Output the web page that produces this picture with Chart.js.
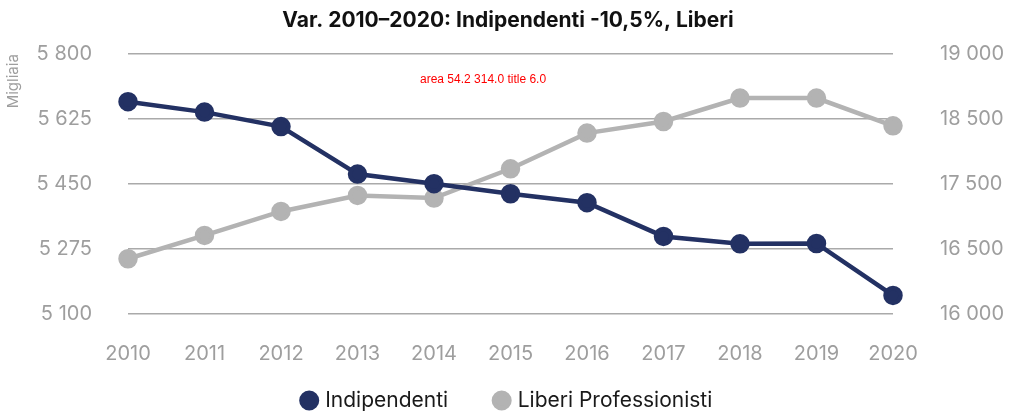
<!DOCTYPE html>
<html>
<head>
<meta charset="utf-8">
<script src="https://cdn.jsdelivr.net/npm/chart.js@4"></script>
<style>
  html, body { margin: 0; padding: 0; background: #ffffff; }
  #wrap { width: 1022px; height: 411px; position: relative; }
</style>
</head>
<body>
<div id="wrap"><canvas id="grafico"></canvas></div>
<script>
const anni = ["2010", "2011", "2012", "2013", "2014", "2015", "2016", "2017", "2018", "2019", "2020"];
const indipendenti = [5672, 5644, 5605, 5477, 5451, 5424, 5400, 5309, 5289, 5290, 5150];
const liberiProfessionisti = [16638, 16907, 17184, 17369, 17339, 17677, 18089, 18223, 18493, 18493, 18173];
const tickSinistra = ["5 100", "5 275", "5 450", "5 625", "5 800"];
const tickDestra = ["16 000", "16 500", "17 500", "18 500", "19 000"];

const blu = "#233163";
const grigio = "#b3b3b3";
const grigioTesto = "#9e9e9e";

Chart.defaults.font.family = "Inter, 'Noto Sans', sans-serif";

// la legenda ha un padding largo (spazio fra le voci): alzo solo il bordo superiore dopo il layout
const spostaLegenda = {
  id: "spostaLegenda",
  afterLayout(chart) {
    chart.legend.top -= 34;
  },
  afterDraw(chart) {
    const a = chart.chartArea;
    const ctx = chart.ctx;
    ctx.save();
    ctx.fillStyle = "red";
    ctx.font = "12px sans-serif";
    ctx.fillText("area " + a.top.toFixed(1) + " " + a.bottom.toFixed(1) + " title " + chart.titleBlock.top.toFixed(1), 420, 80);
    ctx.restore();
  }
};

// niente margine extra sopra/sotto per le etichette degli assi verticali
const senzaPaddingVerticale = (asse, larghezza) => {
  asse.width = larghezza;
  asse.paddingTop = 0;
  asse.paddingBottom = 0;
};

new Chart(document.getElementById("grafico"), {
  type: "line",
  data: {
    labels: anni,
    datasets: [{
      label: "Indipendenti",
      data: indipendenti,
      yAxisID: "y",
      borderColor: blu,
      backgroundColor: blu,
      borderWidth: 4.5,
      pointRadius: 7.5,
      pointHoverRadius: 7.5,
      tension: 0
    }, {
      label: "Liberi Professionisti",
      data: liberiProfessionisti,
      yAxisID: "y2",
      borderColor: grigio,
      backgroundColor: grigio,
      borderWidth: 4.5,
      pointRadius: 7.5,
      pointHoverRadius: 7.5,
      tension: 0
    }]
  },
  options: {
    responsive: true,
    maintainAspectRatio: false,
    animation: false,
    layout: { padding: { left: 4, right: 10, top: 6, bottom: 0 } },
    plugins: {
      title: {
        display: true,
        text: "Var. 2010–2020: Indipendenti -10,5%, Liberi",
        color: "#111111",
        font: { size: 21, weight: "bold" },
        padding: { top: 2, bottom: 21 }
      },
      legend: {
        position: "bottom",
        maxHeight: 35,
        labels: {
          usePointStyle: true,
          pointStyle: "circle",
          boxWidth: 11,
          boxHeight: 11,
          padding: 48,
          color: "#1a1a1a",
          font: { size: 21 }
        }
      },
      tooltip: { enabled: false }
    },
    scales: {
      x: {
        offset: false,
        grid: { display: false },
        border: { display: false },
        ticks: { color: grigioTesto, font: { size: 20 }, padding: 20, maxRotation: 0 },
        afterFit: (asse) => { asse.height = 62; }
      },
      y: {
        position: "left",
        min: 5100,
        max: 5800,
        afterBuildTicks: (asse) => {
          asse.ticks = tickSinistra.map((t, i) => ({ value: 5100 + i * 175 }));
        },
        ticks: {
          color: grigioTesto,
          font: { size: 20 },
          padding: 36,
          callback: (v, i) => tickSinistra[i]
        },
        grid: { color: "#aaaaaa", lineWidth: 1.5, drawTicks: false },
        border: { display: false },
        title: {
          display: true,
          text: "Migliaia",
          align: "end",
          color: grigioTesto,
          font: { size: 15 },
          padding: 0
        },
        afterFit: (asse) => senzaPaddingVerticale(asse, 124)
      },
      y2: {
        position: "right",
        min: 16000,
        max: 19000,
        afterBuildTicks: (asse) => {
          asse.ticks = tickDestra.map((t, i) => ({ value: 16000 + i * 750 }));
        },
        ticks: {
          color: grigioTesto,
          font: { size: 20 },
          padding: 47,
          callback: (v, i) => tickDestra[i]
        },
        grid: { display: false, drawTicks: false },
        border: { display: false },
        afterFit: (asse) => senzaPaddingVerticale(asse, 119)
      }
    }
  },
  plugins: [spostaLegenda]
});
</script>
</body>
</html>
